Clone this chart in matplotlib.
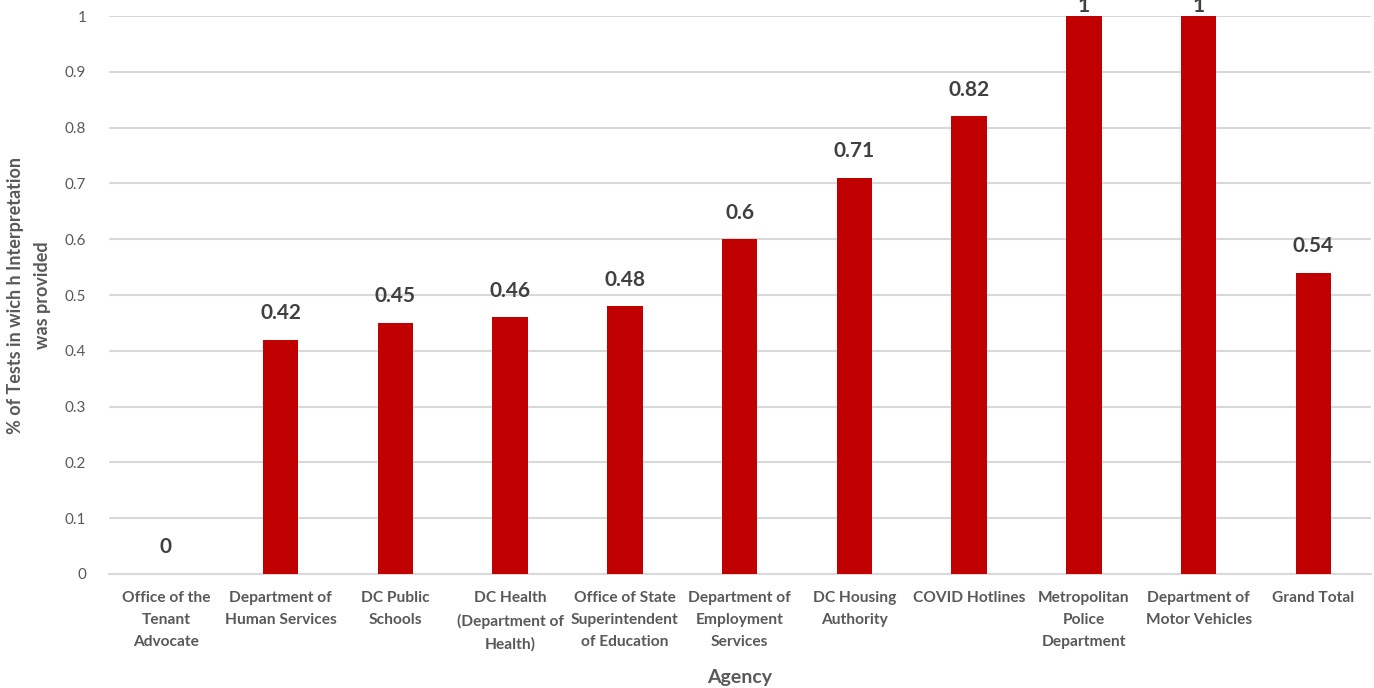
#!/usr/bin/env python3
"""Bar chart: share of tests in which interpretation was provided, by agency."""

import matplotlib
matplotlib.use("Agg")
import matplotlib.pyplot as plt

AGENCIES = [
    "Office of the\nTenant\nAdvocate",
    "Department of\nHuman Services",
    "DC Public\nSchools",
    "DC Health\n(Department of\nHealth)",
    "Office of State\nSuperintendent\nof Education",
    "Department of\nEmployment\nServices",
    "DC Housing\nAuthority",
    "COVID Hotlines",
    "Metropolitan\nPolice\nDepartment",
    "Department of\nMotor Vehicles",
    "Grand Total",
]
SHARE = [0, 0.42, 0.45, 0.46, 0.48, 0.6, 0.71, 0.82, 1, 1, 0.54]
Y_TICKS = [0, 0.1, 0.2, 0.3, 0.4, 0.5, 0.6, 0.7, 0.8, 0.9, 1]
Y_TICK_LABELS = ["0", "0.1", "0.2", "0.3", "0.4", "0.5", "0.6", "0.7", "0.8", "0.9", "1"]

BAR_COLOR = "#c00000"
TEXT_COLOR = "#595959"
GRID_COLOR = "#d9d9d9"

plt.rcParams["font.family"] = ["Lato", "DejaVu Sans"]

fig = plt.figure(figsize=(13.74, 6.88), dpi=100)
ax = fig.add_axes([0.079, 0.1657, 0.9187, 0.811])

x = list(range(len(AGENCIES)))
ax.bar(x, SHARE, width=0.31, color=BAR_COLOR, zorder=3)

for xi, v in zip(x, SHARE):
    label = f"{v:g}"
    offset = 12 if v < 0.95 else 0
    ax.annotate(label, (xi, v), xytext=(0, offset), textcoords="offset points",
                ha="center", va="bottom", fontsize=15, fontweight="bold",
                color="#404040", annotation_clip=False, zorder=4)

ax.set_xlim(-0.5, len(AGENCIES) - 0.5)
ax.set_ylim(0, 1)
ax.set_yticks(Y_TICKS)
ax.set_yticklabels(Y_TICK_LABELS)
ax.set_xticks(x)
ax.set_xticklabels(AGENCIES, fontsize=11.2, fontweight="bold", color=TEXT_COLOR,
                   linespacing=1.75, va="top")
ax.tick_params(axis="y", length=0, labelsize=11, labelcolor=TEXT_COLOR, pad=16)
ax.tick_params(axis="x", length=0, pad=12)

ax.grid(True, axis="y", color=GRID_COLOR, linewidth=1.5, zorder=0)
for side in ["top", "right", "left"]:
    ax.spines[side].set_visible(False)
ax.spines["bottom"].set_color(GRID_COLOR)
ax.spines["bottom"].set_linewidth(1.5)
ax.spines["bottom"].set_zorder(1)

ax.set_xlabel("Agency", fontsize=14, fontweight="bold", color=TEXT_COLOR, labelpad=12)
ax.set_ylabel("% of Tests in wich h Interpretation\nwas provided", fontsize=13,
              fontweight="bold", color=TEXT_COLOR, labelpad=10, linespacing=1.75)

fig.savefig("out.png", dpi=100, facecolor="white")
